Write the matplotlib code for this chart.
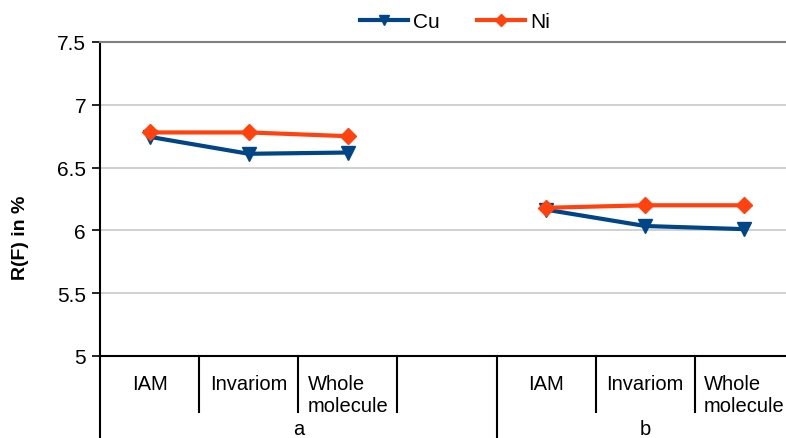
import matplotlib.pyplot as plt
from matplotlib import transforms

# categories (empty slot separates group a from group b)
categorias = ['IAM', 'Invariom', 'Whole\nmolecule', '', 'IAM', 'Invariom', 'Whole\nmolecule']
grupos = ['a', 'b']
grupo_limites = [(0, 4), (4, 7)]

cu_a = [6.745, 6.61, 6.62]
cu_b = [6.165, 6.035, 6.01]
ni_a = [6.78, 6.78, 6.75]
ni_b = [6.18, 6.20, 6.20]

azul = '#004586'
laranja = '#ff420e'

plt.rcParams['font.family'] = ['Liberation Sans', 'DejaVu Sans']

W, H = 786, 439
fig = plt.figure(figsize=(W / 100, H / 100), dpi=100)
x0, x1, ytop, ybot = 100, 794, 43, 357
ax = fig.add_axes([x0 / W, 1 - ybot / H, (x1 - x0) / W, (ybot - ytop) / H])

xa = [i + 0.5 for i in range(3)]
xb = [i + 4.5 for i in range(3)]

ax.plot(xa, cu_a, color=azul, lw=3, marker='v', ms=10, label='Cu', zorder=3)
ax.plot(xb, cu_b, color=azul, lw=3, marker='v', ms=10, zorder=3)
ax.plot(xa, ni_a, color=laranja, lw=3, marker='D', ms=8, label='Ni', zorder=4)
ax.plot(xb, ni_b, color=laranja, lw=3, marker='D', ms=8, zorder=4)

ax.set_xlim(0, 7)
ax.set_ylim(5, 7.5)
ax.set_yticks([5, 5.5, 6, 6.5, 7, 7.5])
ax.set_yticklabels(['5', '5.5', '6', '6.5', '7', '7.5'], fontsize=15)
ax.yaxis.grid(True, color='#c8c8c8', lw=1.2)
ax.set_axisbelow(True)
ax.tick_params(axis='y', length=6, width=1.2, pad=4)
ax.set_xticks([])

ax.spines['right'].set_visible(False)
ax.spines['top'].set_color('#808080')
ax.spines['top'].set_linewidth(1.5)
ax.spines['left'].set_linewidth(1.5)
ax.spines['bottom'].set_linewidth(1.5)

altura = ybot - ytop
ax.set_ylabel('R(F) in %', fontsize=14, fontweight='bold')
ax.yaxis.set_label_coords(-(x0 - 29) / (x1 - x0), 1 - (238 - ytop) / altura)

# x-axis category separators and labels
trans = transforms.blended_transform_factory(ax.transData, ax.transAxes)
curto = -(413 - ybot) / altura
longo = -(H - ybot) / altura
for i in range(8):
    if i in (0, 4):
        ax.plot([i, i], [0, longo], color='black', lw=1.5, transform=trans, clip_on=False)
    else:
        ax.plot([i, i], [0, curto], color='black', lw=1.5, transform=trans, clip_on=False)

for i, nome in enumerate(categorias):
    if nome:
        ax.text(i + 0.5, -(375 - ybot) / altura, nome, transform=trans, ha='center', va='top',
                fontsize=14.5, linespacing=1.2, multialignment='left')
for g, (a, b) in zip(grupos, grupo_limites):
    ax.text((a + b) / 2, -(430 - ybot) / altura, g, transform=trans, ha='center', va='center',
            fontsize=14.5)

fig.legend(loc='center', bbox_to_anchor=(455 / W, 1 - 23 / H), ncol=2, frameon=False,
           fontsize=15, handlelength=2.3, columnspacing=1.75, handletextpad=0.25,
           markerscale=0.75)

fig.savefig('out.png', dpi=100)
